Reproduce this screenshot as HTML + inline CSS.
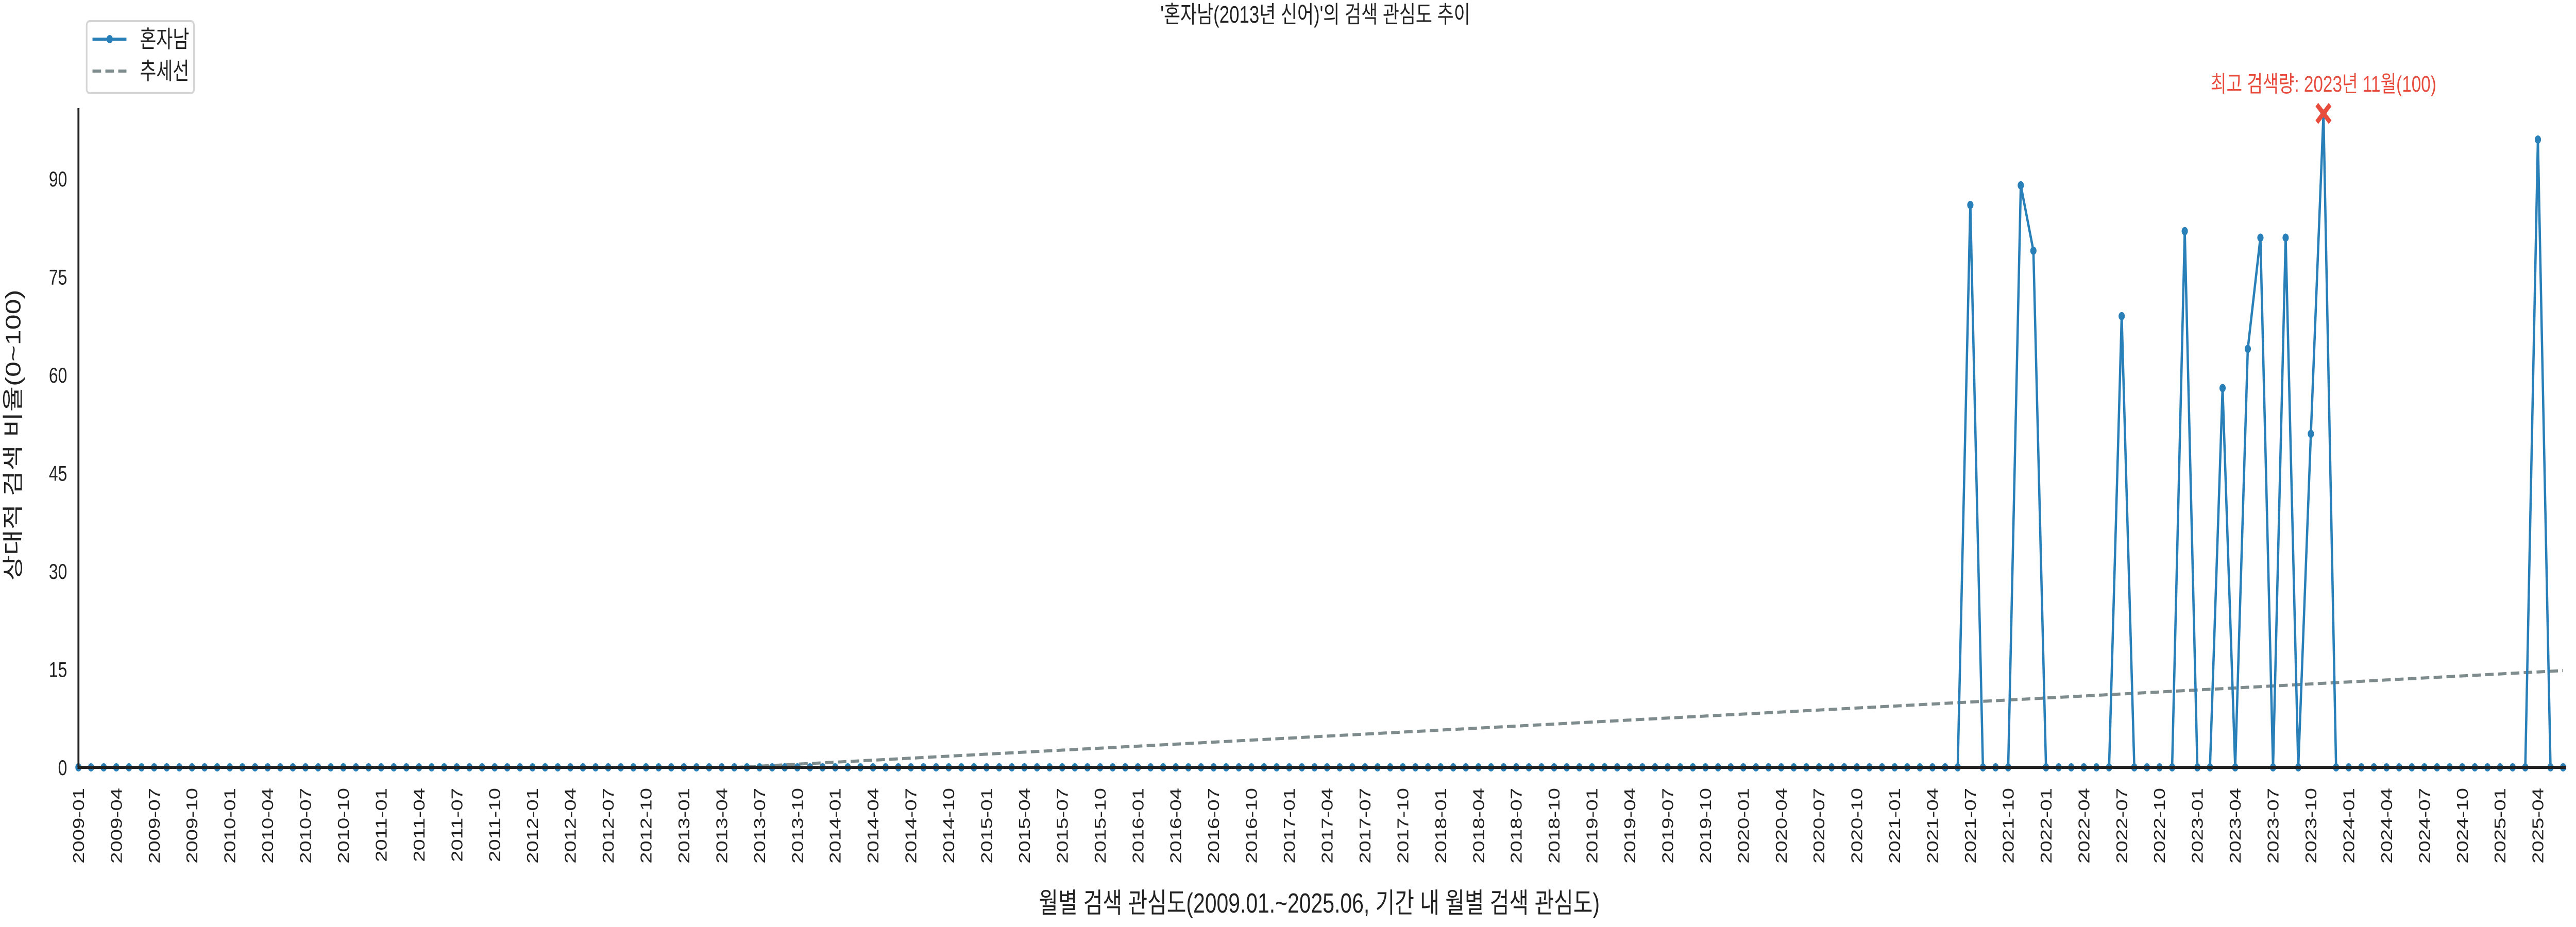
<!DOCTYPE html>
<html><head><meta charset="utf-8">
<style>
html,body{margin:0;padding:0;background:#fff;width:100%;height:100%;overflow:hidden;}
svg{display:block;width:100vw;height:100vh;font-family:"Liberation Sans","Noto Sans CJK KR",sans-serif;}
</style></head>
<body>
<svg id="chart" viewBox="0 0 6600 1800" preserveAspectRatio="none" xmlns="http://www.w3.org/2000/svg">
  <rect width="6600" height="1800" fill="#fff"/>
  <text x="3370" y="44" text-anchor="middle" font-size="46" fill="#222">'혼자남(2013년 신어)'의 검색 관심도 추이</text>
  <text x="3380" y="1772" text-anchor="middle" font-size="54" fill="#222">월별 검색 관심도(2009.01.~2025.06, 기간 내 월별 검색 관심도)</text>
  <text transform="translate(52,845) rotate(-90)" text-anchor="middle" font-size="54" fill="#222">상대적 검색 비율(0~100)</text>
  <defs><clipPath id="plotclip"><rect x="201" y="205" width="6380" height="1286"/></clipPath></defs>
  <g id="trend" clip-path="url(#plotclip)"></g>
  <g id="series"></g>
  <g id="axes"></g>
  <g id="legend">
    <rect x="222" y="41" width="275" height="140" rx="8" fill="#fff" stroke="#d5d5d5" stroke-width="4"/>
    <line x1="237" y1="76" x2="324" y2="76" stroke="#2980b9" stroke-width="6"/>
    <circle cx="281" cy="76" r="8" fill="#2980b9"/>
    <text x="358" y="92" font-size="46" fill="#222">혼자남</text>
    <line x1="237" y1="138" x2="324" y2="138" stroke="#7f8c8d" stroke-width="6" stroke-dasharray="22,11"/>
    <text x="358" y="154" font-size="46" fill="#222">추세선</text>
  </g>
</svg>
<script>
const startYear = 2009;
const monthCount = 198;
const peakMonths = ["2021-07","2021-11","2021-12","2022-07","2022-12","2023-03","2023-05","2023-06","2023-08","2023-10","2023-11","2025-04"];
const peakValues = [86,89,79,69,82,58,64,81,81,51,100,96];
const yTicks = [0,15,30,45,60,75,90];
const yMax = 101.2;

const NS = "http://www.w3.org/2000/svg";
const X0 = 201, X1 = 6567, Y0 = 1490, YTOP = 205;
function xAt(i){ return X0 + (X1 - X0) * i / (monthCount - 1); }
function yAt(v){ return Y0 - (Y0 - YTOP) * v / yMax; }
function mk(tag, attrs, parent){ const e = document.createElementNS(NS, tag); for (const k in attrs) e.setAttribute(k, attrs[k]); parent.appendChild(e); return e; }
function label(i){ const y = startYear + Math.floor(i/12); const m = i%12+1; return y + "-" + (m<10?"0":"") + m; }

const labels = [];
const values = [];
for (let i = 0; i < monthCount; i++){ labels.push(label(i)); values.push(0); }
peakMonths.forEach((m, k) => { const idx = labels.indexOf(m); if (idx >= 0) values[idx] = peakValues[k]; });

const axes = document.getElementById('axes');
yTicks.forEach(v => {
  const t = mk('text', {x: 172, y: yAt(v) + 15, 'text-anchor': 'end', 'font-size': 42, fill: '#222'}, axes);
  t.textContent = v;
  
  
});
for (let i = 0; i < monthCount; i += 3){
  const x = xAt(i);
  const t = mk('text', {transform: `translate(${x+14},${1530}) rotate(-90)`, 'text-anchor': 'end', 'font-size': 40, fill: '#222'}, axes);
  t.textContent = labels[i];
  
  
}
const ySpine = mk('line', {x1: X0, y1: 210, x2: X0, y2: Y0 + 3, stroke: '#222', 'stroke-width': 5}, axes);


const xSpine = mk('line', {x1: X0 - 2, y1: Y0, x2: 6575, y2: Y0, stroke: '#222', 'stroke-width': 6}, axes);



const n = values.length;
const mx = (n - 1) / 2;
const my = values.reduce((a,b)=>a+b,0) / n;
let sxy = 0, sxx = 0;
values.forEach((v,i) => { sxy += (i-mx)*(v-my); sxx += (i-mx)*(i-mx); });
const slope = sxy / sxx, icpt = my - slope*mx;
const trend = mk('line', {x1: xAt(0), y1: yAt(icpt), x2: xAt(n-1), y2: yAt(icpt + slope*(n-1)), stroke: '#7f8c8d', 'stroke-width': 6, 'stroke-dasharray': '22,11'}, document.getElementById('trend'));



const sg = document.getElementById('series');
const pts = values.map((v,i) => xAt(i).toFixed(1) + "," + yAt(v).toFixed(1)).join(" ");
const pl = mk('polyline', {points: pts, fill: 'none', stroke: '#2980b9', 'stroke-width': 6, 'stroke-linejoin': 'round'}, sg);


values.forEach((v,i) => {
  const c = mk('circle', {cx: xAt(i), cy: yAt(v), r: 8, fill: '#2980b9'}, sg);
  
  
});

let pi = 0; values.forEach((v,i) => { if (v > values[pi]) pi = i; });
const px = xAt(pi), py = yAt(values[pi]);
const mark = mk('path', {d: `M${px-17},${py-17}L${px+17},${py+17}M${px-17},${py+17}L${px+17},${py-17}`, stroke: '#e74c3c', 'stroke-width': 10}, sg);


const [py4, pm] = labels[pi].split("-");
const ann = mk('text', {x: px, y: 178, 'text-anchor': 'middle', 'font-size': 44, fill: '#e74c3c'}, sg);
ann.textContent = `최고 검색량: ${py4}년 ${parseInt(pm)}월(${values[pi]})`;


</script>
</body></html>
